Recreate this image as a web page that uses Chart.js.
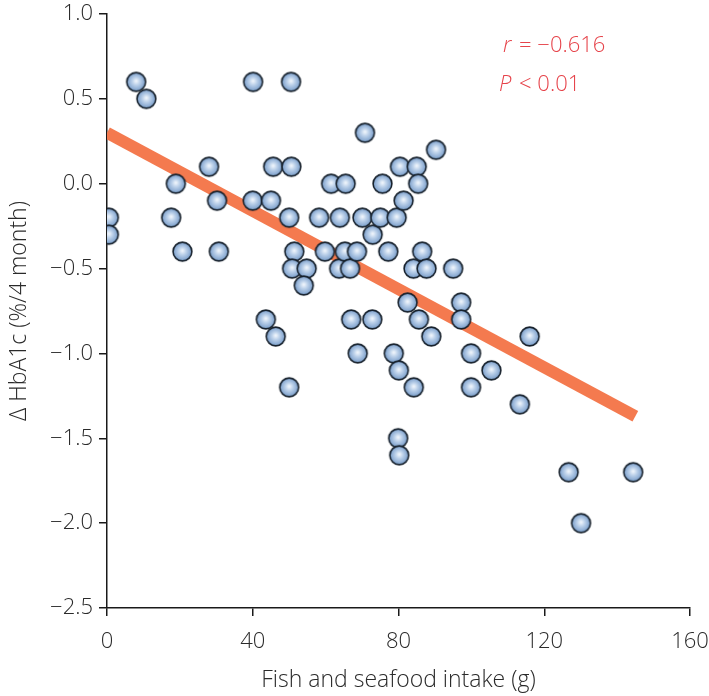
<!DOCTYPE html>
<html>
<head>
<meta charset="utf-8">
<script src="https://cdn.jsdelivr.net/npm/chart.js@4.4.1/dist/chart.umd.min.js"></script>
<style>
html,body{margin:0;padding:0;background:#fff;}
#wrap{position:relative;width:709px;height:696px;}
</style>
</head>
<body>
<div id="wrap"><canvas id="c" width="709" height="696"></canvas></div>
<script>
// Fish and seafood intake (g)
const intakeX = [0.5,0.5,8.0,10.8,17.6,18.9,20.7,28.0,30.2,30.7,
  40.1,40.0,43.6,45.0,45.6,46.3,50.0,50.0,50.5,50.6,
  51.4,50.8,54.8,54.0,58.2,59.8,61.5,63.9,63.7,65.5,
  65.3,66.7,67.0,68.6,68.8,70.8,70.1,72.9,72.8,75.6,
  75.0,77.2,78.7,79.5,80.1,79.9,80.2,80.4,81.4,82.5,
  84.1,84.2,85.0,85.4,85.6,86.5,87.7,89.0,90.3,95.0,
  97.2,97.2,99.9,99.9,105.5,113.3,116.0,126.7,130.1,144.4];
// Δ HbA1c (%/4 month)
const deltaHbA1c = [-0.2,-0.3,0.6,0.5,-0.2,0.0,-0.4,0.1,-0.1,-0.4,
  0.6,-0.1,-0.8,-0.1,0.1,-0.9,-1.2,-0.2,0.6,0.1,
  -0.4,-0.5,-0.5,-0.6,-0.2,-0.4,0.0,-0.2,-0.5,0.0,
  -0.4,-0.5,-0.8,-0.4,-1.0,0.3,-0.2,-0.3,-0.8,0.0,
  -0.2,-0.4,-1.0,-0.2,-1.1,-1.5,-1.6,0.1,-0.1,-0.7,
  -0.5,-1.2,0.1,0.0,-0.8,-0.4,-0.5,-0.9,0.2,-0.5,
  -0.7,-0.8,-1.0,-1.2,-1.1,-1.3,-0.9,-1.7,-2.0,-1.7];
// Regression line endpoints
const fitX = [0, 145];
const fitY = [0.30, -1.37];
const xTicks = [0,40,80,120,160];
const yTicks = [1.0,0.5,0.0,-0.5,-1.0,-1.5,-2.0,-2.5];

// sphere-like point image
function makeBall(){
  const s = 23, c = document.createElement('canvas');
  c.width = s; c.height = s;
  const g = c.getContext('2d');
  const r = 10;
  const grad = g.createRadialGradient(s/2, s/2-1, 0.5, s/2, s/2, r);
  grad.addColorStop(0, '#eef4fb');
  grad.addColorStop(0.35, '#bcd1ea');
  grad.addColorStop(1, '#7197c6');
  g.beginPath(); g.arc(s/2, s/2, r-0.6, 0, Math.PI*2);
  g.fillStyle = grad; g.fill();
  g.lineWidth = 1.6; g.strokeStyle = '#17212c'; g.stroke();
  return c;
}
const ball = makeBall();

const pts = intakeX.map((x,i)=>({x:x, y:deltaHbA1c[i]}));
const fit = fitX.map((x,i)=>({x:x, y:fitY[i]}));

const FONT = "'Open Sans', sans-serif";
const statPlugin = {
  id:'stat',
  afterDraw(chart){
    const ctx = chart.ctx;
    ctx.save();
    ctx.fillStyle = '#e6434a';
    ctx.textBaseline = 'alphabetic';
    ctx.textAlign = 'left';
    let x = 503, y = 52;
    ctx.font = "italic 300 22px " + FONT;
    ctx.fillText('r', x, y);
    x += ctx.measureText('r ').width + 2;
    ctx.font = "300 22px " + FONT;
    ctx.fillText('= \u22120.616', x, y);
    x = 499; y = 91;
    ctx.font = "italic 300 22px " + FONT;
    ctx.fillText('P', x, y);
    x += ctx.measureText('P ').width + 2;
    ctx.font = "300 22px " + FONT;
    ctx.fillText('< 0.01', x, y);
    ctx.restore();
  }
};

const fmt = v => (v < 0 ? '\u2212' : '') + Math.abs(v).toFixed(1);

new Chart(document.getElementById('c'), {
  data: {
    datasets: [
      { type:'line', data: fit, borderColor:'#f47a4f', borderWidth:12,
        pointRadius:0, borderCapStyle:'butt', order:2, tension:0 },
      { type:'scatter', data: pts, pointStyle: ball, pointRadius:10,
        order:1 }
    ]
  },
  options: {
    responsive:false,
    animation:false,
    events:[],
    layout:{ padding:{ top:14, right:19, left:0, bottom:0 } },
    plugins:{ legend:{display:false}, tooltip:{enabled:false} },
    scales:{
      x:{
        type:'linear', min:0, max:160,
        afterBuildTicks(s){ s.ticks = xTicks.map(v=>({value:v})); },
        afterFit(s){ s.height = 88; s.paddingLeft = 0; s.paddingRight = 0; },
        ticks:{ font:{family:FONT, size:22, weight:300}, color:'#2a2a2a', padding:13, maxRotation:0 },
        grid:{ drawOnChartArea:false, drawTicks:true, tickLength:8, color:'#1a1a1a', lineWidth:1.5 },
        border:{ display:true, color:'#1a1a1a', width:1.5 },
        title:{ display:true, text:'Fish and seafood intake (g)', font:{family:FONT, size:23, weight:300}, color:'#2a2a2a', padding:{top:0,bottom:2} }
      },
      y:{
        type:'linear', min:-2.5, max:1.0,
        afterBuildTicks(s){ s.ticks = yTicks.map(v=>({value:v})); },
        afterFit(s){ s.width = 107; s.paddingTop = 0; s.paddingBottom = 0; },
        ticks:{ font:{family:FONT, size:22, weight:300}, color:'#2a2a2a', padding:6, callback:(v)=>fmt(v) },
        grid:{ drawOnChartArea:false, drawTicks:true, tickLength:8, color:'#1a1a1a', lineWidth:1.5 },
        border:{ display:true, color:'#1a1a1a', width:1.5 },
        title:{ display:true, text:'\u0394 HbA1c (%/4 month)', font:{family:FONT, size:23, weight:300}, color:'#2a2a2a', padding:{top:6,bottom:0} }
      }
    }
  },
  plugins:[statPlugin]
});
</script>
</body>
</html>
